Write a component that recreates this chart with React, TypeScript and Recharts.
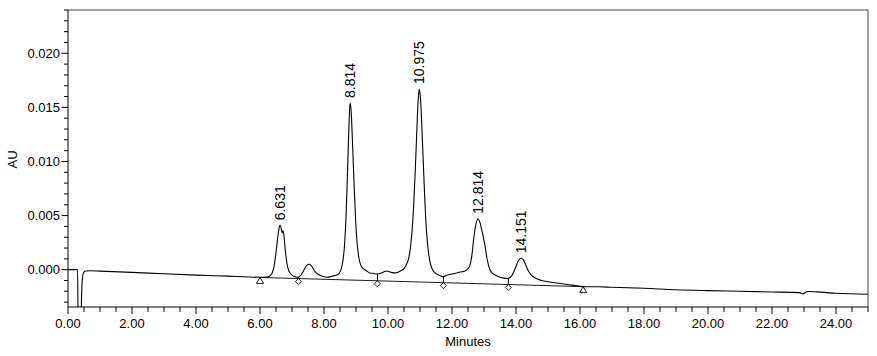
import React from 'react';
import { ComposedChart, Line, Scatter, XAxis, YAxis, ReferenceLine } from 'recharts';

// ---- Data (minutes, AU) ----
const solventFront: [number, number][] = [
  [0, 0], [0.3, 0], [0.32, -0.0065], [0.38, -0.0065], [0.41, -0.004], [0.44, -0.0012],
  [0.48, -0.0003], [0.55, -0.00012], [0.7, -0.0001], [1.0, -0.00013],
];
const earlyDrift: [number, number][] = [
  [2.0, -0.00025], [3.0, -0.00038], [4.0, -0.0005], [5.0, -0.0006], [5.5, -0.00065], [6.0, -0.0007],
];
const peakRegion: [number, number][] = [
  [6.2, -0.00068], [6.3, -0.0006], [6.38, -0.0003], [6.44, 0.0003], [6.5, 0.0016], [6.56, 0.0031],
  [6.61, 0.004], [6.631, 0.0041], [6.67, 0.0037], [6.69, 0.0034], [6.72, 0.0036], [6.75, 0.0031],
  [6.79, 0.0018], [6.84, 0.0006], [6.9, -0.0001], [7.0, -0.0005], [7.1, -0.00065], [7.2, -0.0007],
  [7.3, -0.0004], [7.38, 0.0], [7.46, 0.0004], [7.54, 0.0005], [7.62, 0.0003], [7.7, -0.0001],
  [7.8, -0.0004], [7.95, -0.0006], [8.1, -0.0007], [8.25, -0.0006], [8.4, -0.0005], [8.48, -0.0003],
  [8.54, 0.0001], [8.59, 0.0008], [8.64, 0.0022], [8.69, 0.005], [8.74, 0.0095], [8.78, 0.0133],
  [8.814, 0.0154], [8.85, 0.0146], [8.89, 0.0118], [8.94, 0.0079], [8.99, 0.0045], [9.04, 0.0023],
  [9.09, 0.0011], [9.15, 0.0004], [9.23, 0.0001], [9.32, -0.0001], [9.43, -0.0003],
  [9.55, -0.00035], [9.67, -0.0004], [9.8, -0.0003], [9.96, -0.00012], [10.1, -0.00025],
  [10.25, -0.0003], [10.4, -0.0001], [10.5, 0.0001], [10.58, 0.0005], [10.65, 0.0011],
  [10.7, 0.002], [10.75, 0.0035], [10.8, 0.0058], [10.85, 0.009], [10.9, 0.0128], [10.94, 0.0155],
  [10.975, 0.0167], [11.01, 0.016], [11.05, 0.0138], [11.1, 0.0101], [11.15, 0.0065],
  [11.2, 0.0037], [11.25, 0.002], [11.3, 0.0009], [11.36, 0.0002], [11.44, -0.0002],
  [11.52, -0.0004], [11.62, -0.00055], [11.73, -0.00065], [11.85, -0.0005], [12.0, -0.0004],
  [12.15, -0.0003], [12.3, -0.0002], [12.42, -0.0001], [12.5, 0.0001], [12.56, 0.0004],
  [12.62, 0.0013], [12.68, 0.0029], [12.74, 0.0041], [12.814, 0.0047], [12.88, 0.0043],
  [12.95, 0.0034], [13.02, 0.0024], [13.09, 0.0011], [13.16, 0.0002], [13.25, -0.0003],
  [13.35, -0.0005], [13.5, -0.0007], [13.62, -0.00078], [13.76, -0.0008], [13.86, -0.0006],
  [13.93, -0.0002], [14.0, 0.0003], [14.07, 0.0008], [14.151, 0.00105], [14.23, 0.0009],
  [14.31, 0.0004], [14.4, -0.0002], [14.48, -0.0005], [14.56, -0.0007], [14.65, -0.00085],
  [14.8, -0.001], [15.0, -0.00112], [15.4, -0.00128], [15.8, -0.00145], [16.1, -0.00157],
];
const lateDrift: [number, number][] = [
  [16.6, -0.00158], [17.0, -0.00163], [18.0, -0.00172], [19.0, -0.00186], [20.0, -0.00194],
  [21.0, -0.002], [22.0, -0.00206], [22.85, -0.00212], [22.97, -0.00224], [23.05, -0.00208],
  [23.15, -0.00202], [23.4, -0.00205], [24.0, -0.00218], [25.0, -0.00227],
];

// integration baseline (start/end) and drop points
const baselinePts: [number, number][] = [[6.0, -0.00072], [16.1, -0.00157]];
const dropTimes = [7.2, 9.67, 11.73, 13.76];
const dropTraceAU = [-0.0007, -0.0004, -0.00065, -0.0008];
const dropBaseAU = [-0.00082, -0.00103, -0.0012, -0.00137];

// peak labels
const peakTimes = [6.631, 8.814, 10.975, 12.814, 14.151];
const peakAU = [0.0041, 0.0154, 0.0167, 0.0047, 0.00105];
const peakNames = ['6.631', '8.814', '10.975', '12.814', '14.151'];

// ticks
const xTicks = [0, 0.5, 1, 1.5, 2, 2.5, 3, 3.5, 4, 4.5, 5, 5.5, 6, 6.5, 7, 7.5, 8, 8.5, 9, 9.5, 10,
  10.5, 11, 11.5, 12, 12.5, 13, 13.5, 14, 14.5, 15, 15.5, 16, 16.5, 17, 17.5, 18, 18.5, 19, 19.5,
  20, 20.5, 21, 21.5, 22, 22.5, 23, 23.5, 24, 24.5, 25];
const xMajor = [0, 2, 4, 6, 8, 10, 12, 14, 16, 18, 20, 22, 24];
const yTicks = [-0.003, -0.002, -0.001, 0, 0.001, 0.002, 0.003, 0.004, 0.005, 0.006, 0.007, 0.008,
  0.009, 0.01, 0.011, 0.012, 0.013, 0.014, 0.015, 0.016, 0.017, 0.018, 0.019, 0.02, 0.021, 0.022,
  0.023, 0.024];
const yMajor = [0, 0.005, 0.01, 0.015, 0.02];

const FONT = '"Liberation Sans", Arial, sans-serif';

const traceData = [...solventFront, ...earlyDrift, ...peakRegion, ...lateDrift].map(([t, v]) => ({ t, v }));
const baselineData = baselinePts.map(([t, v]) => ({ t, v }));
const dropData = dropTimes.map((t, i) => ({ t, v: dropBaseAU[i] }));
const peakData = peakTimes.map((t, i) => ({ t, v: peakAU[i], name: peakNames[i] }));

const isMajor = (arr: number[], v: number) => arr.some((m) => Math.abs(m - v) < 1e-9);

const XTick = (props: any) => {
  const { x, y, payload } = props;
  const major = isMajor(xMajor, payload.value);
  return (
    <g>
      <line x1={x} x2={x} y1={y} y2={y + (major ? 7 : 5)} stroke="#000" strokeWidth={1} />
      {major && (
        <text x={x} y={y + 20.5} textAnchor="middle" fontSize={13} fontFamily={FONT} fill="#000">
          {payload.value.toFixed(2)}
        </text>
      )}
    </g>
  );
};

const YTick = (props: any) => {
  const { x, y, payload } = props;
  const major = isMajor(yMajor, payload.value);
  return (
    <g>
      <line x1={x} x2={x - (major ? 6.5 : 4)} y1={y} y2={y} stroke="#000" strokeWidth={1} />
      {major && (
        <text x={x - 8} y={y + 4.5} textAnchor="end" fontSize={13} fontFamily={FONT} fill="#000">
          {payload.value.toFixed(3)}
        </text>
      )}
    </g>
  );
};

const Triangle = (props: any) => {
  const { cx, cy } = props;
  return <path d={`M${cx},${cy} L${cx + 3.5},${cy + 6} L${cx - 3.5},${cy + 6} Z`} fill="#fff" stroke="#000" strokeWidth={0.9} />;
};
const Diamond = (props: any) => {
  const { cx, cy } = props;
  return <path d={`M${cx},${cy} L${cx + 3},${cy + 3} L${cx},${cy + 6} L${cx - 3},${cy + 3} Z`} fill="#fff" stroke="#000" strokeWidth={0.9} />;
};
const PeakLabel = (props: any) => {
  const { cx, cy, payload } = props;
  const yy = cy - 5;
  return (
    <text x={cx} y={yy} transform={`rotate(-90, ${cx}, ${yy})`} textAnchor="start" dominantBaseline="central"
      fontSize={14} fontFamily={FONT} fill="#000">
      {payload.name}
    </text>
  );
};

export default function App() {
  return (
    <div style={{ position: 'absolute', left: 0, top: 0 }}>
      <ComposedChart width={877} height={356} margin={{ top: 10, right: 9, bottom: 0, left: 8 }} data={traceData}>
        <XAxis dataKey="t" type="number" domain={[0, 25]} allowDataOverflow ticks={xTicks} interval={0}
          tickSize={0} tickMargin={0} tickLine={false} tick={<XTick />} height={49}
          axisLine={{ stroke: '#000', strokeWidth: 1 }}
          label={{ content: () => (
            <text x={468} y={346} textAnchor="middle" fontSize={13} fontFamily={FONT} fill="#000">Minutes</text>
          ) }} />
        <YAxis type="number" domain={[-0.00345, 0.024]} allowDataOverflow ticks={yTicks} interval={0}
          tickSize={0} tickMargin={0} tickLine={false} tick={<YTick />} width={60}
          axisLine={{ stroke: '#000', strokeWidth: 1 }}
          label={{ content: () => (
            <text x={16.7} y={159.5} transform="rotate(-90, 16.7, 159.5)" textAnchor="middle"
              fontSize={13} fontFamily={FONT} fill="#000">AU</text>
          ) }} />
        <ReferenceLine y={0.024} stroke="#808080" strokeWidth={1.5} />
        <ReferenceLine x={25} stroke="#808080" strokeWidth={1.5} />
        <Line data={baselineData} dataKey="v" type="linear" stroke="#000" strokeWidth={0.9} dot={false} isAnimationActive={false} />
        {dropTimes.map((t, i) => (
          <ReferenceLine key={t} segment={[{ x: t, y: dropTraceAU[i] }, { x: t, y: dropBaseAU[i] }]} stroke="#000" strokeWidth={1} />
        ))}
        <Line dataKey="v" type="monotone" stroke="#000" strokeWidth={1.1} dot={false} isAnimationActive={false} />
        <Scatter data={baselineData} dataKey="v" shape={<Triangle />} isAnimationActive={false} />
        <Scatter data={dropData} dataKey="v" shape={<Diamond />} isAnimationActive={false} />
        <Scatter data={peakData} dataKey="v" shape={<PeakLabel />} isAnimationActive={false} />
      </ComposedChart>
    </div>
  );
}
